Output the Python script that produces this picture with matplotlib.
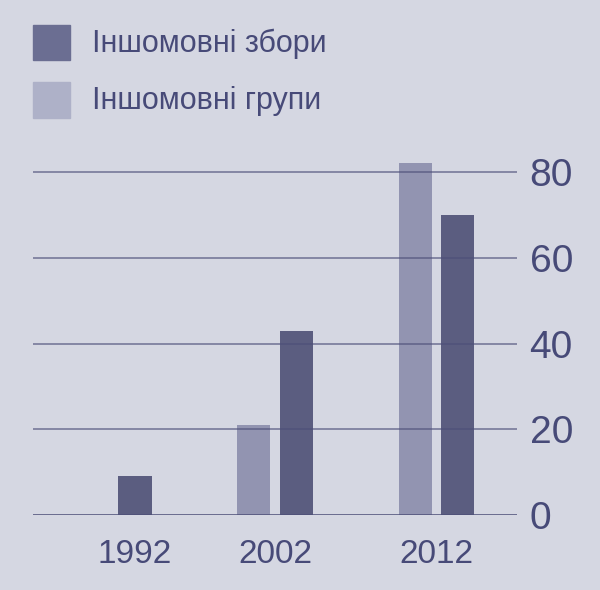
import numpy as np
import matplotlib.pyplot as plt
from matplotlib.patches import Rectangle

plt.rcParams['font.family'] = ['Liberation Sans', 'DejaVu Sans']

# data
years = ['1992', '2002', '2012']
zbory = [9, 43, 70]          # Іншомовні збори (dark)
hrupy = [np.nan, 21, 82]     # Іншомовні групи (light)
yticks = [0, 20, 40, 60, 80]

bg = '#d5d7e2'
dark = '#5b5d80'
light = '#9294b1'
txt = '#474a78'
line = '#4d4f78'

fig = plt.figure(figsize=(6, 5.9), dpi=100, facecolor=bg)
ax = fig.add_axes([0.055, 0.1271, 0.8067, 0.6176], facecolor=bg)

x = np.arange(len(years))
w = 0.205
off = 0.132
ax.bar(x - off, hrupy, width=w, color=light, zorder=2)
ax.bar(x + off, zbory, width=w, color=dark, zorder=2)

for v in yticks:
    ax.axhline(v, color=line, lw=1.1, alpha=0.75 if v else 1, zorder=3)

ax.set_xlim(-0.5, 2.5)
ax.set_ylim(0, 85)
for s in ax.spines.values():
    s.set_visible(False)

ax.yaxis.tick_right()
ax.set_yticks(yticks)
ax.set_yticklabels([str(v) for v in yticks])
ax.tick_params(axis='y', length=0, pad=9, labelsize=28, labelcolor=txt)

# 1992 has only one bar, its label sits under it
xt = [x[0] + off, x[1], x[2]]
ax.set_xticks(xt)
ax.set_xticklabels(years)
ax.tick_params(axis='x', length=0, pad=17, labelsize=24, labelcolor=txt)

# legend drawn by hand
fig.patches.append(Rectangle((33 / 600, 1 - 60 / 590), 37 / 600, 35 / 590,
                             transform=fig.transFigure, color='#6b6e92'))
fig.patches.append(Rectangle((33 / 600, 1 - 118 / 590), 37 / 600, 36 / 590,
                             transform=fig.transFigure, color='#aeb1c8'))
fig.text(92 / 600, 1 - 44 / 590, 'Іншомовні збори', fontsize=22, color=txt,
         va='center', ha='left')
fig.text(92 / 600, 1 - 101 / 590, 'Іншомовні групи', fontsize=22, color=txt,
         va='center', ha='left')

fig.savefig('out.png', dpi=100, facecolor=bg)
